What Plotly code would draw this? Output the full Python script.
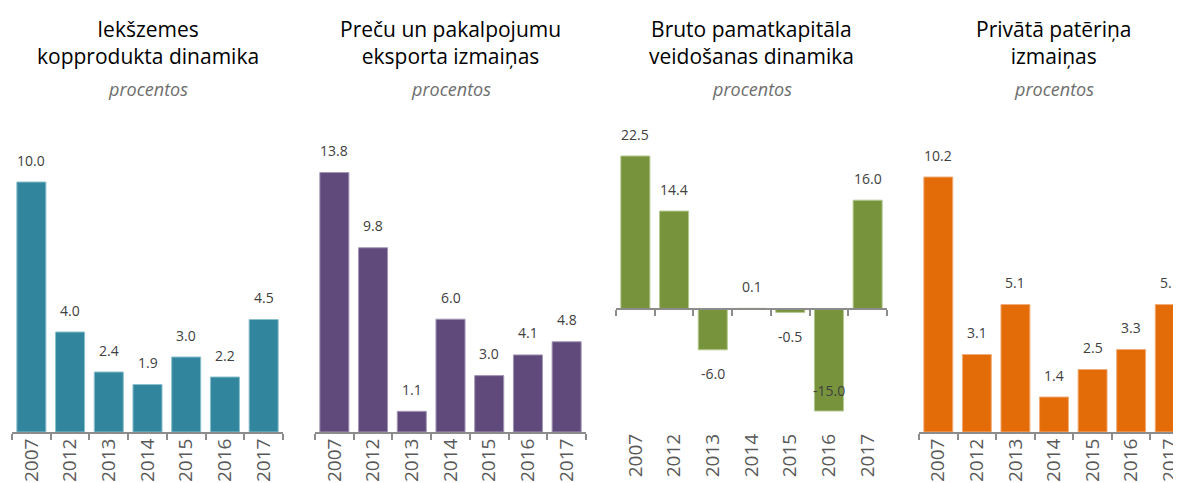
import plotly.graph_objects as go

years = ["2007", "2012", "2013", "2014", "2015", "2016", "2017"]
gdp = [10.0, 4.0, 2.4, 1.9, 3.0, 2.2, 4.5]
exports = [13.8, 9.8, 1.1, 6.0, 3.0, 4.1, 4.8]
investment = [22.5, 14.4, -6.0, 0.1, -0.5, -15.0, 16.0]
consumption = [10.2, 3.1, 5.1, 1.4, 2.5, 3.3, 5.1]

titles = ["Iekšzemes<br>kopprodukta dinamika",
          "Preču un pakalpojumu<br>eksporta izmaiņas",
          "Bruto pamatkapitāla<br>veidošanas dinamika",
          "Privātā patēriņa<br>izmaiņas"]
subtitle = "procentos"
series = [gdp, exports, investment, consumption]
colors = ["#31859C", "#604A7B", "#77933C", "#E36C09"]
edge_colors = ["#8cc0ce", "#a396b5", "#b3c88f", "#f2ad78"]

OFF = 8  # page body margin of the html page
W, H = 1181 - OFF, 483 - OFF
FONT = "Open Sans"

# panel geometry (screen pixels)
x_px = [(12, 283), (315, 586), (616, 887), (919, 1189)]
x_ranges = [[-0.5, 6.5], [-0.5, 6.5], [-0.5, 6.5], [-0.5, 6.5]]
top_px, bot_px = 110, 432
base_px = [432, 432, 309, 432]
scale = [25.0, 18.8, 6.8, 25.0]  # px per unit


def py(p):
    return (H - (p - OFF)) / H


def px(p):
    return (p - OFF) / W


fig = go.Figure()
annotations = []
layout = dict(
    width=W, height=H, margin=dict(l=0, r=0, t=0, b=0),
    paper_bgcolor="white", plot_bgcolor="white",
    showlegend=False, bargap=0.25,
    font=dict(family=FONT, color="#595959"),
)

for i in range(4):
    n = i + 1
    xa = "x" if n == 1 else f"x{n}"
    ya = "y" if n == 1 else f"y{n}"
    xkey = "xaxis" if n == 1 else f"xaxis{n}"
    ykey = "yaxis" if n == 1 else f"yaxis{n}"
    vals = series[i]
    fig.add_trace(go.Bar(
        x=years, y=vals, xaxis=xa, yaxis=ya,
        marker=dict(color=colors[i], line=dict(color=edge_colors[i], width=1)),
        hoverinfo="skip",
    ))
    ymax = (base_px[i] - top_px) / scale[i]
    ymin = -(bot_px - base_px[i]) / scale[i]
    lo, hi = px(x_px[i][0]), px(x_px[i][1])
    rng = list(x_ranges[i])
    if hi > 1:
        cat_w = (x_px[i][1] - x_px[i][0]) / (rng[1] - rng[0])
        rng[1] = rng[0] + (W + OFF - x_px[i][0]) / cat_w
        hi = 1
    xd = [max(lo, 0), hi]
    is_neg_panel = ymin < 0
    layout[xkey] = dict(
        domain=xd, anchor=ya, type="category",
        categoryorder="array", categoryarray=years, range=rng,
        showline=not is_neg_panel, linecolor="#8c8c8c", linewidth=2,
        ticks="outside", tickson="boundaries", ticklen=6, tickwidth=2,
        tickcolor="rgba(0,0,0,0)" if is_neg_panel else "#8c8c8c",
        tickangle=-90, tickfont=dict(size=19, color="#595959", family=FONT),
        ticklabelstandoff=-3,
        showgrid=False, zeroline=False, fixedrange=True,
    )
    layout[ykey] = dict(
        domain=[py(bot_px), py(top_px)], anchor=xa, range=[ymin, ymax],
        visible=False, showgrid=False, zeroline=False, fixedrange=True,
    )
    # value labels
    clamp_center_px = 390  # lowest label position inside plot
    for j, v in enumerate(vals):
        if v >= 0:
            shift = 22
        else:
            end_px = base_px[i] - v * scale[i]
            lab_px = min(end_px + 24, clamp_center_px)
            shift = end_px - lab_px
        annotations.append(dict(
            x=j, y=v, xref=xa, yref=ya, text=f"{v:.1f}", showarrow=False,
            xanchor="center", yanchor="middle", yshift=shift,
            font=dict(size=14, color="#404040", family=FONT)))
    cx = px((x_px[i][0] + x_px[i][1]) / 2)
    annotations.append(dict(
        x=cx, y=py(42), xref="paper", yref="paper", text=titles[i],
        showarrow=False, xanchor="center", yanchor="middle",
        font=dict(size=21, color="#000000", family=FONT)))
    annotations.append(dict(
        x=cx, y=py(89), xref="paper", yref="paper", text=f"<i>{subtitle}</i>",
        showarrow=False, xanchor="center", yanchor="middle",
        font=dict(size=18, color="#6e6e6e", family=FONT)))

# zero-line axis for the panel with negative values
fig.add_trace(go.Scatter(
    x=years, y=[0] * len(years), xaxis="x5", yaxis="y3", mode="markers",
    marker=dict(opacity=0), hoverinfo="skip"))
layout["xaxis5"] = dict(
    overlaying="x3", anchor="free", position=py(base_px[2]), type="category",
    categoryorder="array", categoryarray=years, range=x_ranges[2],
    showline=True, linecolor="#8c8c8c", linewidth=2,
    ticks="outside", tickson="boundaries", ticklen=6, tickwidth=2,
    tickcolor="#8c8c8c", showticklabels=False, showgrid=False, zeroline=False,
    fixedrange=True,
)

layout["annotations"] = annotations
fig.update_layout(**layout)
fig.write_html("out.html")
